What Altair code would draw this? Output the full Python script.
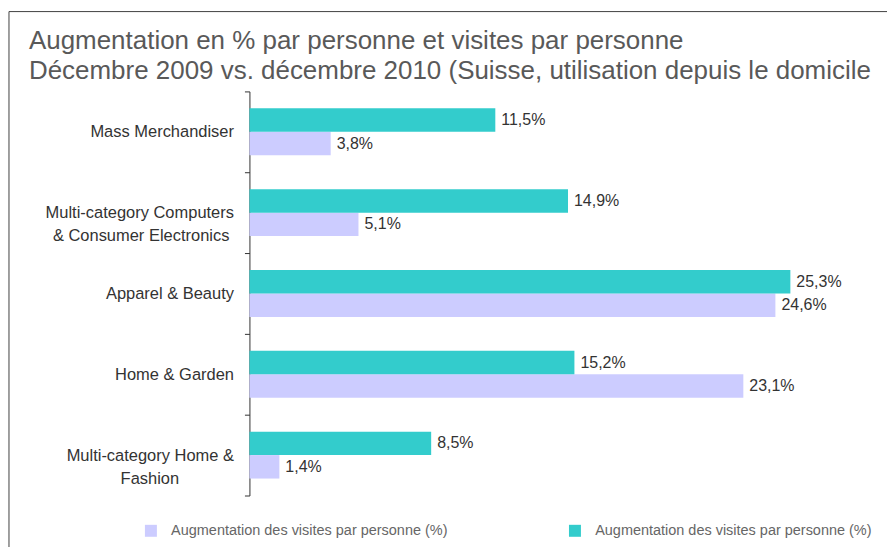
import altair as alt
import pandas as pd

# ---- data ----
categories = [
    "Mass Merchandiser",
    "Multi-category Computers & Consumer Electronics",
    "Apparel & Beauty",
    "Home & Garden",
    "Multi-category Home & Fashion",
]
PAD = "\u00a0"
END = "\u200b"
category_lines = [
    ["Mass Merchandiser"],
    ["Multi-category Computers", "& Consumer Electronics" + PAD + END],
    ["Apparel & Beauty"],
    ["Home & Garden"],
    ["Multi-category Home &", "Fashion" + PAD * 12 + END],
]
series_keys = ["Série 1", "Série 2"]
series_labels = [
    "Augmentation des visites par personne (%)",
    "Augmentation des visites par personne (%)",
]
series_colors = ["#CCCCFF", "#33CCCC"]
values_s1 = [3.8, 5.1, 24.6, 23.1, 1.4]
values_s2 = [11.5, 14.9, 25.3, 15.2, 8.5]
title_lines = [
    "Augmentation en % par personne et visites par personne",
    "Décembre 2009 vs. décembre 2010 (Suisse, utilisation depuis le domicile",
]

rows = []
for cat, v1, v2 in zip(categories, values_s1, values_s2):
    rows.append({"categorie": cat, "serie": series_keys[0], "valeur": v1})
    rows.append({"categorie": cat, "serie": series_keys[1], "valeur": v2})
df = pd.DataFrame(rows)

FONT = "Liberation Sans"


def js_str(s):
    return "'" + s.replace("'", "\\'") + "'"


# label expression for multi-line category labels
expr = "datum.value"
for cat, lines in reversed(list(zip(categories, category_lines))):
    arr = "[" + ",".join(js_str(l) for l in lines) + "]"
    expr = f"datum.value == {js_str(cat)} ? {arr} : ({expr})"
y_label_expr = expr

leg_expr = "datum.value"
for key, lab in reversed(list(zip(series_keys, series_labels))):
    leg_expr = f"datum.value == {js_str(key)} ? {js_str(lab)} : ({leg_expr})"

y_enc = alt.Y(
    "categorie:N",
    sort=categories,
    scale=alt.Scale(paddingInner=0, paddingOuter=0),
    axis=alt.Axis(
        title=None,
        labelExpr=y_label_expr,
        labelFont=FONT,
        labelFontSize=16.5,
        labelColor="#333333",
        labelAlign="right",
        labelBaseline="middle",
        labelLineHeight=23,
        labelPadding=11,
        labelLimit=400,
        tickSize=5,
        tickColor="#333333",
        domainColor="#333333",
        tickBand="extent",
        grid=False,
    ),
)
yoff_enc = alt.YOffset(
    "serie:N",
    scale=alt.Scale(domain=[series_keys[1], series_keys[0]], paddingInner=0, paddingOuter=0.7234),
)
x_enc = alt.X("valeur:Q", scale=alt.Scale(domain=[0, 28], nice=False, zero=True), axis=None)

base = alt.Chart(df)

bars = base.mark_bar().encode(
    y=y_enc,
    yOffset=yoff_enc,
    x=x_enc,
    color=alt.Color(
        "serie:N",
        scale=alt.Scale(domain=series_keys, range=series_colors),
        legend=alt.Legend(
            title=None,
            orient="none",
            legendX=-106,
            legendY=433,
            direction="horizontal",
            columns=2,
            columnPadding=120,
            symbolType="square",
            symbolSize=144,
            symbolStrokeWidth=0,
            labelFont=FONT,
            labelFontSize=14.5,
            labelColor="#666666",
            labelOffset=13,
            labelLimit=0,
            labelExpr=leg_expr,
        ),
    ),
)

labels = base.transform_calculate(
    txt="replace(format(datum.valeur, '.1f'), '.', ',') + '%'"
).mark_text(
    align="left", baseline="middle", dx=6, font=FONT, fontSize=16, color="#333333"
).encode(
    y=alt.Y("categorie:N", sort=categories),
    yOffset=yoff_enc,
    x=x_enc,
    text="txt:N",
)

frame_df = pd.DataFrame({"k": [0]})
frame_top = alt.Chart(frame_df).mark_rule(color="#404040", strokeWidth=1).encode(
    x=alt.value(-241), x2=alt.value(639), y=alt.value(-80)
)
frame_left = alt.Chart(frame_df).mark_rule(color="#404040", strokeWidth=1).encode(
    x=alt.value(-241), y=alt.value(-80), y2=alt.value(457)
)

chart = (
    alt.layer(bars, labels, frame_top, frame_left)
    .properties(
        width=600,
        height=405,
        padding={"left": 8, "top": 10, "right": 0, "bottom": 0},
        background="white",
        title=alt.TitleParams(
            text=title_lines,
            anchor="start",
            frame="group",
            dx=-221,
            offset=-73,
            font=FONT,
            fontSize=26,
            lineHeight=30,
            fontWeight="normal",
            color="#595959",
        ),
    )
    .configure_view(stroke=None)
)

chart.save("out.html", embed_options={"renderer": "svg", "actions": False})
